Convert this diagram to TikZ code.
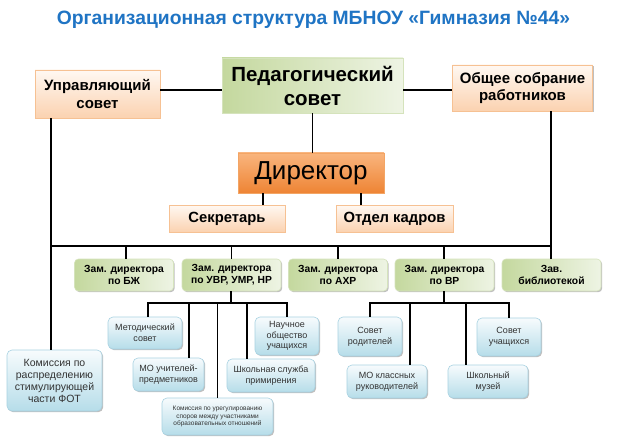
\documentclass[tikz,border=0pt]{standalone}
\usepackage{fontspec}
\setmainfont{Liberation Sans}
\usetikzlibrary{shadows}
\definecolor{titleblue}{HTML}{1F74C4}
\definecolor{orBorder}{HTML}{F6C193}
\definecolor{orTop}{HTML}{FFF8F2}
\definecolor{orBot}{HTML}{FBD2B0}
\definecolor{dirTop}{HTML}{F9B57E}
\definecolor{dirBot}{HTML}{EE8434}
\definecolor{dirBorder}{HTML}{F3A565}
\definecolor{grDark}{HTML}{C4D89E}
\definecolor{grLight}{HTML}{EEF4E4}
\definecolor{grBorder}{HTML}{D5E3BC}
\definecolor{blTop}{HTML}{F7FBFD}
\definecolor{blBot}{HTML}{B6DDE9}
\definecolor{blBorder}{HTML}{A8D2E2}
\definecolor{txtgray}{HTML}{333333}
\tikzset{
  shad/.style={drop shadow={shadow xshift=1.2pt,shadow yshift=-1.2pt,opacity=0.25,fill=black}},
  obox/.style={shad,draw=orBorder,line width=0.8pt,top color=orTop,bottom color=orBot,align=center,inner sep=0pt,font=\bfseries},
  pedbox/.style={shad,draw=grBorder,line width=0.8pt,shading=axis,shading angle=135,left color=grDark,right color=grLight,align=center,inner sep=0pt,font=\bfseries},
  dirbox/.style={shad,draw=dirBorder,line width=0.8pt,top color=dirTop,bottom color=dirBot,align=center,inner sep=0pt},
  zbox/.style={shad,draw=grBorder,line width=0.6pt,rounded corners=4pt,shading=axis,shading angle=120,left color=grDark,right color=grLight,align=center,inner sep=0pt,font=\bfseries\fontsize{10.3}{12}\selectfont,minimum width=99pt,minimum height=32pt},
  bbox/.style={shad,draw=blBorder,line width=0.6pt,rounded corners=5pt,top color=blTop,bottom color=blBot,align=center,inner sep=0pt,text=txtgray,font=\fontsize{9}{11}\selectfont},
  conn/.style={line width=1.4pt,black}
}
\begin{document}
\begin{tikzpicture}[x=1pt,y=-1pt]
\useasboundingbox[fill=white] (0,0) rectangle (624,441);
% title
\node[text=titleblue,font=\bfseries\fontsize{19.3}{22}\selectfont] (title) at (313.5,20) {Организационная структура МБНОУ «Гимназия №44»};
% bus coordinates
\coordinate (bL) at (51,246);
\coordinate (bR) at (551,246);
\coordinate (topY) at (0,90);
% top boxes
\node[obox,minimum width=125pt,minimum height=48pt,font=\bfseries\fontsize{15}{18}\selectfont] (upr) at (97.5,94) {Управляющий\\совет};
\node[pedbox,minimum width=181pt,minimum height=55pt,font=\bfseries\fontsize{20.5}{24}\selectfont] (ped) at (312.5,85.5) {Педагогический\\совет};
\node[obox,minimum width=140pt,minimum height=46pt,font=\bfseries\fontsize{15}{17.5}\selectfont] (obs) at (522.5,88) {Общее собрание\\работников};
\node[dirbox,minimum width=146pt,minimum height=40pt,font=\fontsize{26}{30}\selectfont] (dir) at (311,173) {Директор};
\node[obox,minimum width=116pt,minimum height=27pt,font=\bfseries\fontsize{14.8}{17}\selectfont] (sec) at (227,218.5) {Секретарь};
\node[obox,minimum width=117pt,minimum height=27pt,font=\bfseries\fontsize{14.8}{17}\selectfont] (kadr) at (394.5,218.5) {Отдел кадров};
% deputies
\node[zbox] (z1) at (124,275) {Зам. директора\\по БЖ};
\node[zbox] (z2) at (231.5,275) {Зам. директора\\по УВР, УМР, НР};
\node[zbox] (z3) at (338,275) {Зам. директора\\по АХР};
\node[zbox] (z4) at (444.5,275) {Зам. директора\\по ВР};
\node[zbox] (z5) at (551.5,275) {Зав.\\библиотекой};
% lower boxes
\node[bbox,minimum width=95pt,minimum height=61pt,font=\fontsize{10.5}{12}\selectfont] (kfot) at (54.5,380.5) {Комиссия по\\распределению\\стимулирующей\\части ФОТ};
\node[bbox,minimum width=74pt,minimum height=32pt] (met) at (145,333) {Методический\\совет};
\node[bbox,minimum width=64pt,minimum height=38pt,font=\fontsize{9}{10.3}\selectfont] (nauch) at (287,336) {Научное\\общество\\учащихся};
\node[bbox,minimum width=71pt,minimum height=33pt] (mou) at (168.5,374.5) {МО учителей-\\предметников};
\node[bbox,minimum width=88pt,minimum height=33pt] (shsl) at (271,375.5) {Школьная служба\\примирения};
\node[bbox,minimum width=111pt,minimum height=37pt,font=\fontsize{6.5}{7.3}\selectfont] (kur) at (217.5,416.5) {Комиссия по урегулированию\\споров между участниками\\образовательных отношений};
\node[bbox,minimum width=64pt,minimum height=39pt] (sr) at (370,336.5) {Совет\\родителей};
\node[bbox,minimum width=80pt,minimum height=33pt] (mok) at (387,381.5) {МО классных\\руководителей};
\node[bbox,minimum width=80pt,minimum height=33pt] (muz) at (488,381.5) {Школьный\\музей};
\node[bbox,minimum width=64pt,minimum height=38pt] (su) at (509,337) {Совет\\учащихся};
% sub-bus coordinate
\coordinate (sb1) at (0,303);
% connectors
\draw[conn] (upr.east |- topY) -- (ped.west |- topY);
\draw[conn] (ped.east |- topY) -- (obs.west |- topY);
\draw[conn] (ped.south) -- (ped.south |- dir.north);
\draw[conn] (upr.south -| bL) -- (kfot.north -| bL);
\draw[conn] (obs.south -| bR) -- (bR);
\draw[conn] (bL) -- (bR);
\draw[conn] ([xshift=-48pt]dir.south) -- ([xshift=-48pt]dir.south |- sec.north);
\draw[conn] ([xshift=50pt]dir.south) -- ([xshift=50pt]dir.south |- kadr.north);
\draw[conn] (bL -| 126,0) -- (z1.north -| 126,0);
\draw[conn] (bL -| z2.north) -- (z2.north);
\draw[conn] (bL -| z3.north) -- (z3.north);
\draw[conn] (bL -| 444,0) -- (z4.north -| 444,0);
\draw[conn] (bR) -- (z5.north -| bR);
% UVR sub-tree
\draw[conn] (z2.south -| 231,0) -- (sb1 -| 231,0);
\draw[conn] (met.north -| 148,0) -- (sb1 -| 148,0) -- (sb1 -| nauch.north) -- (nauch.north);
\draw[conn] (sb1 -| 189,0) -- (mou.north -| 189,0);
\draw[conn] (sb1 -| kur.north) -- (kur.north);
\draw[conn] (sb1 -| 247,0) -- (shsl.north -| 247,0);
% VR sub-tree
\draw[conn] (z4.south -| 444,0) -- (sb1 -| 444,0);
\draw[conn] (sr.north) -- (sb1 -| sr.north) -- (sb1 -| su.north) -- (su.north);
\draw[conn] (sb1 -| 410,0) -- (mok.north -| 410,0);
\draw[conn] (sb1 -| 466,0) -- (muz.north -| 466,0);
\end{tikzpicture}
\end{document}
